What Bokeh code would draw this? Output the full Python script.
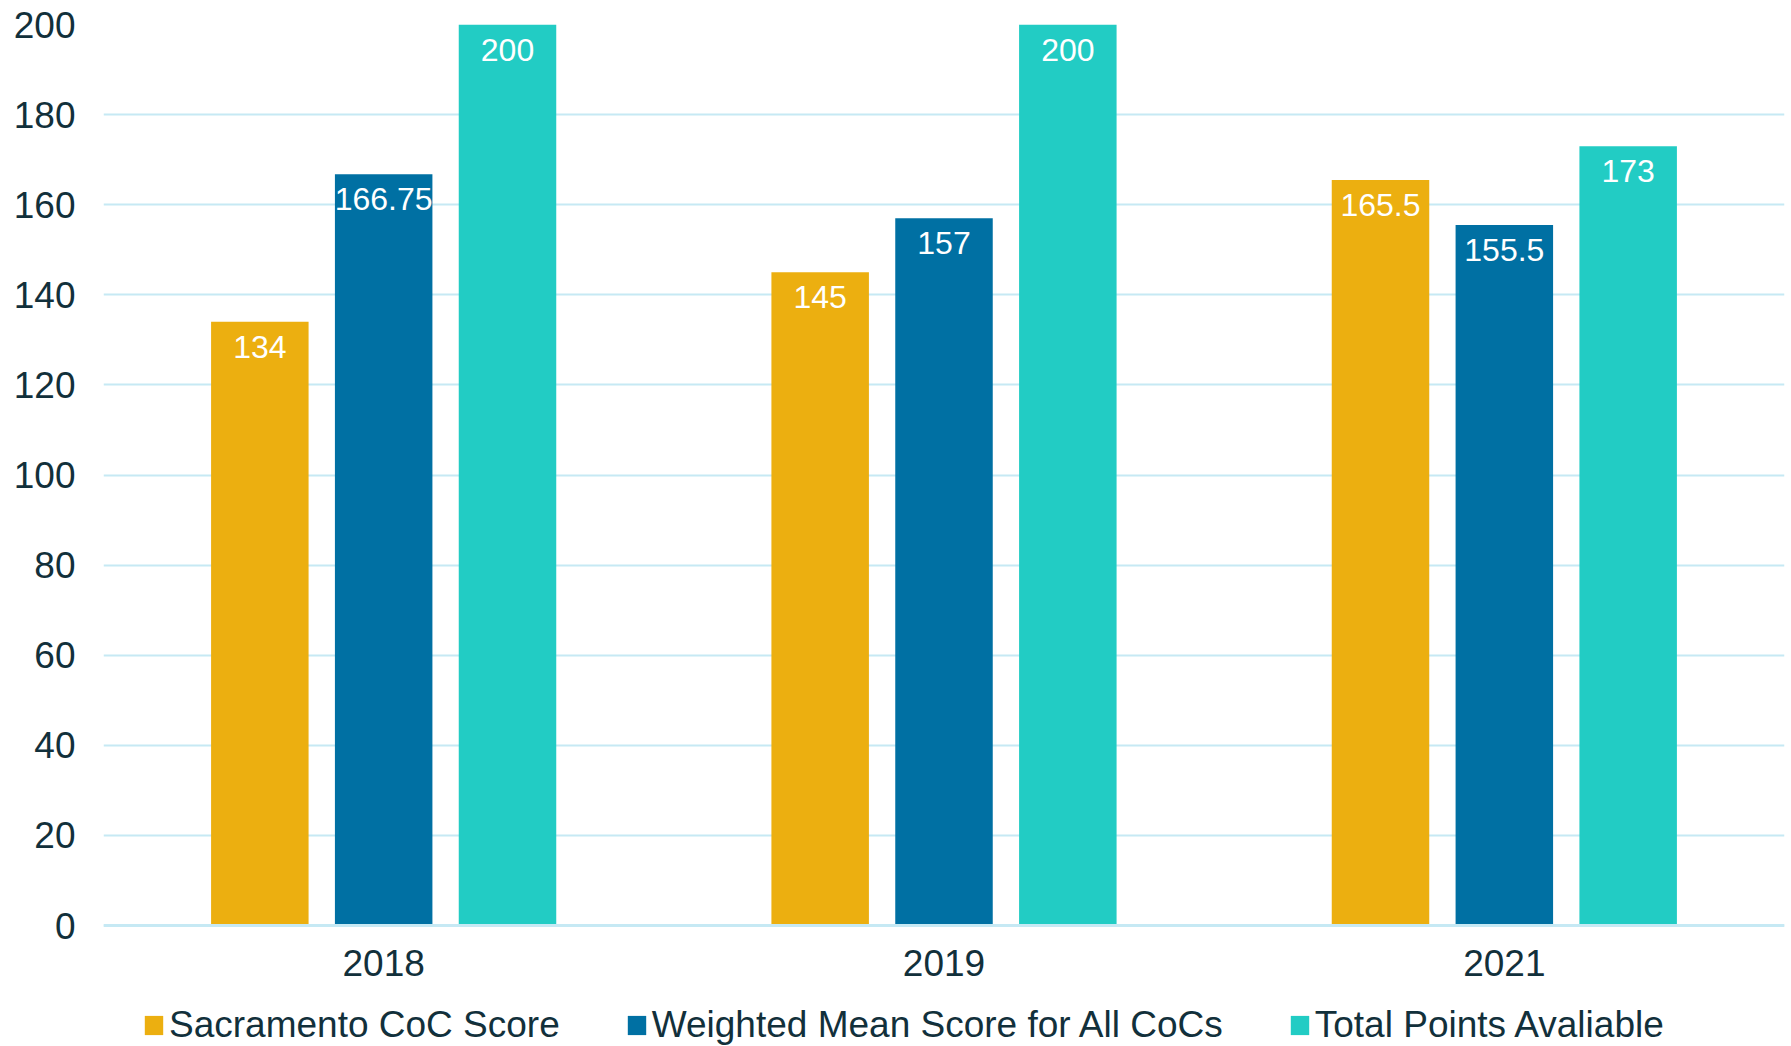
from bokeh.plotting import figure
from bokeh.models import (ColumnDataSource, FactorRange, Range1d, Legend, LegendItem,
                          FixedTicker, CategoricalAxis)
from bokeh.transform import dodge
from bokeh.core.properties import value
from bokeh.embed import file_html
from bokeh.resources import INLINE

years = ["2018", "2019", "2021"]
sacramento = [134, 145, 165.5]
weighted_mean = [166.75, 157, 155.5]
total_points = [200, 200, 173]
series_names = ["Sacramento CoC Score", "Weighted Mean Score for All CoCs", "Total Points Avaliable"]
y_ticks = [0, 20, 40, 60, 80, 100, 120, 140, 160, 180, 200]
colors = ["#ECAF10", "#0070A3", "#22CCC4"]

def fmt(v):
    return ("%g" % v)

src = ColumnDataSource(dict(
    years=years,
    s=sacramento, w=weighted_mean, t=total_points,
    s_lab=[fmt(v) for v in sacramento],
    w_lab=[fmt(v) for v in weighted_mean],
    t_lab=[fmt(v) for v in total_points],
))

FONT = "Liberation Sans"
TXT = "#12303B"
GRID = "#C6E9F4"

# frame spans down to the page bottom; value 0 sits 121 px above it (legend room)
px_per_unit = 901 / 200.0
y_start = -121 / px_per_unit

p = figure(x_range=FactorRange(*years, range_padding=0), y_range=Range1d(y_start, 200),
           width=1791, height=1046, x_axis_location=None,
           min_border_left=103, min_border_top=24, min_border_right=7, min_border_bottom=0,
           output_backend="svg", toolbar_location=None, outline_line_color=None)

offsets = [-0.221, 0.0, 0.221]
keys = ["s", "w", "t"]
renderers = []
for k, off, c in zip(keys, offsets, colors):
    r = p.vbar(x=dodge("years", off, range=p.x_range), top=k, bottom=0, width=0.174, source=src,
               fill_color=c, line_color=None)
    renderers.append(r)
    p.text(x=dodge("years", off, range=p.x_range), y=k, text=k + "_lab", source=src,
           text_align="center", text_baseline="top", y_offset=14,
           text_color="white", text_font=value(FONT), text_font_size="32px")

p.xgrid.grid_line_color = None
p.ygrid.grid_line_color = GRID
p.ygrid.grid_line_width = 2
p.yaxis.ticker = FixedTicker(ticks=y_ticks)
p.yaxis.axis_line_color = None
p.yaxis.major_tick_line_color = None
p.yaxis.minor_tick_line_color = None
p.yaxis.major_label_standoff = 22
p.yaxis.major_label_text_font = FONT
p.yaxis.major_label_text_font_size = "37px"
p.yaxis.major_label_text_color = TXT

xaxis = CategoricalAxis(fixed_location=0,
                        axis_line_color=GRID, axis_line_width=3,
                        major_tick_line_color=None, minor_tick_line_color=None,
                        major_label_standoff=18, major_label_text_font=FONT,
                        major_label_text_font_size="37px", major_label_text_color=TXT)
p.add_layout(xaxis, "below")

legend = Legend(items=[LegendItem(label=n, renderers=[r]) for n, r in zip(series_names, renderers)],
                orientation="horizontal", location=(39, 0),
                glyph_width=23, glyph_height=24, label_standoff=4, spacing=65,
                padding=0, margin=0, border_line_color=None, background_fill_alpha=0,
                label_text_font=FONT, label_text_font_size="37px", label_text_color=TXT)
p.add_layout(legend, "center")

open("out.html", "w").write(file_html(p, INLINE))
